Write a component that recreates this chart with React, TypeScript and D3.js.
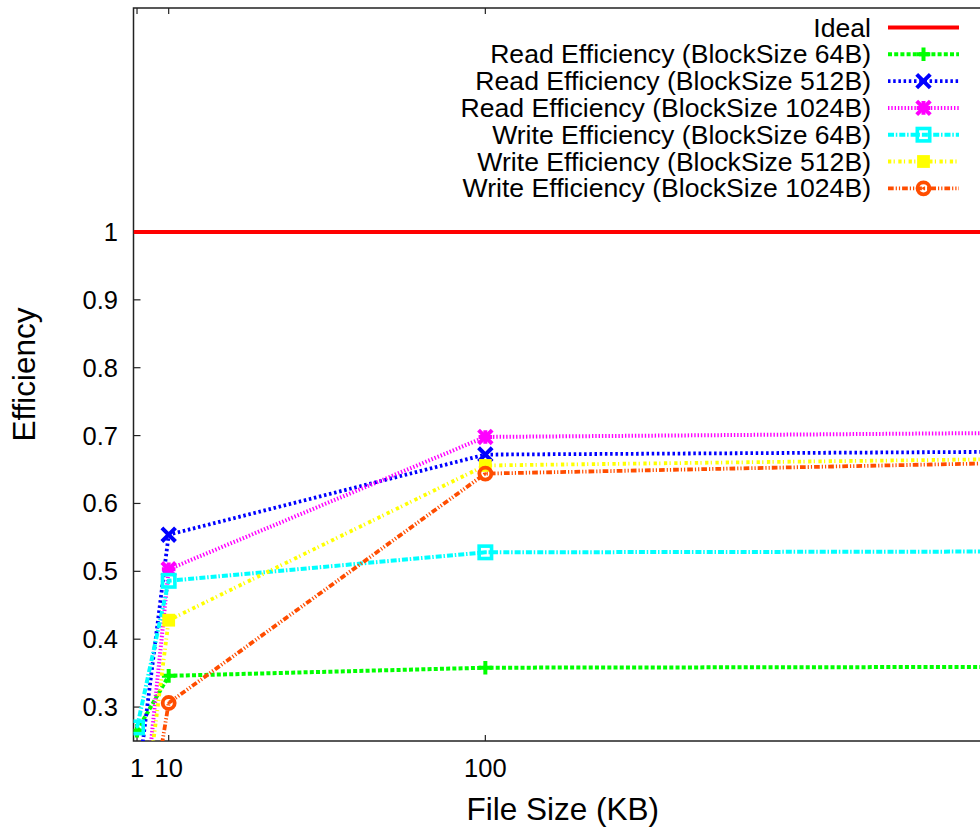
import React, { useRef, useEffect } from "react";
import * as d3 from "d3";

// File sizes in KB
const fileSizes = [1, 10, 100, 1000];

// Efficiency values per series
const idealValue = 1;
const readEff64 = [0.265, 0.346, 0.358, 0.365];
const readEff512 = [0.18, 0.554, 0.672, 0.697];
const readEff1024 = [0.045, 0.503, 0.698, 0.734];
const writeEff64 = [0.27, 0.486, 0.528, 0.535];
const writeEff512 = [0.06, 0.428, 0.656, 0.713];
const writeEff1024 = [0.02, 0.306, 0.644, 0.739];

const xTicks = [1, 10, 100];
const yTicks = [0.3, 0.4, 0.5, 0.6, 0.7, 0.8, 0.9, 1];

const seriesNames = [
  "Read Efficiency (BlockSize 64B)",
  "Read Efficiency (BlockSize 512B)",
  "Read Efficiency (BlockSize 1024B)",
  "Write Efficiency (BlockSize 64B)",
  "Write Efficiency (BlockSize 512B)",
  "Write Efficiency (BlockSize 1024B)",
];

const seriesValues = [readEff64, readEff512, readEff1024, writeEff64, writeEff512, writeEff1024];

const styles = [
  { color: "#00ff00", dash: "4,2.2", width: 4, marker: "plus" },
  { color: "#0000ff", dash: "2.5,2.7", width: 3.8, marker: "cross" },
  { color: "#ff00ff", dash: "1.4,1.9", width: 4, marker: "star" },
  { color: "#00ffff", dash: "6,1.8,1.5,2", width: 4, marker: "openSquare" },
  { color: "#ffff00", dash: "3.3,2.3,1.2,3.5", width: 3.8, marker: "filledSquare" },
  { color: "#ff4d00", dash: "5.7,2,1.2,2,1.2,2", width: 3.8, marker: "openCircle" },
];

const FONT = "'Liberation Sans', Arial, Helvetica, sans-serif";

function drawMarker(g, type, x, y, color) {
  const s = 6.8;
  if (type === "plus" || type === "star") {
    g.append("path")
      .attr("d", `M${x - s},${y}H${x + s}M${x},${y - s}V${y + s}`)
      .attr("stroke", color).attr("stroke-width", 4).attr("fill", "none");
  }
  if (type === "cross" || type === "star") {
    g.append("path")
      .attr("d", `M${x - s},${y - s}L${x + s},${y + s}M${x - s},${y + s}L${x + s},${y - s}`)
      .attr("stroke", color).attr("stroke-width", 4).attr("fill", "none");
  }
  if (type === "openSquare") {
    g.append("rect")
      .attr("x", x - 6.2).attr("y", y - 6.2).attr("width", 12.4).attr("height", 12.4)
      .attr("stroke", color).attr("stroke-width", 3.6).attr("fill", "none");
    g.append("rect").attr("x", x - 1).attr("y", y - 1).attr("width", 2).attr("height", 2).attr("fill", color);
  }
  if (type === "filledSquare") {
    g.append("rect")
      .attr("x", x - 6.4).attr("y", y - 6.4).attr("width", 12.8).attr("height", 12.8)
      .attr("fill", color);
  }
  if (type === "openCircle") {
    g.append("circle").attr("cx", x).attr("cy", y).attr("r", 6)
      .attr("stroke", color).attr("stroke-width", 3.8).attr("fill", "none");
    g.append("circle").attr("cx", x).attr("cy", y).attr("r", 1.4).attr("fill", color);
  }
}

const EfficiencyChart = () => {
  const svgRef = useRef(null);

  useEffect(() => {
    const svg = d3.select(svgRef.current);
    svg.selectAll("*").remove();

    const width = 980;
    const height = 829;
    const plot = { left: 133.5, right: 992, top: 8, bottom: 741 };

    const x = d3.scaleLinear().domain([0, 244]).range([plot.left, plot.right]);
    const y = d3.scaleLinear().domain([0.25, 1.33]).range([plot.bottom, plot.top]);

    svg.attr("width", width).attr("height", height);

    svg.append("defs").append("clipPath").attr("id", "plot-clip")
      .append("rect")
      .attr("x", plot.left).attr("y", plot.top)
      .attr("width", plot.right - plot.left).attr("height", plot.bottom - plot.top);

    // Border
    svg.append("rect")
      .attr("x", plot.left).attr("y", plot.top)
      .attr("width", plot.right - plot.left).attr("height", plot.bottom - plot.top)
      .attr("fill", "none").attr("stroke", "#222").attr("stroke-width", 1.5);

    // Ticks (inward, mirrored)
    const ticks = svg.append("g").attr("stroke", "#222").attr("stroke-width", 1.2);
    xTicks.forEach(t => {
      ticks.append("line").attr("x1", x(t)).attr("x2", x(t)).attr("y1", plot.bottom).attr("y2", plot.bottom - 6);
      ticks.append("line").attr("x1", x(t)).attr("x2", x(t)).attr("y1", plot.top).attr("y2", plot.top + 6);
    });
    yTicks.forEach(t => {
      ticks.append("line").attr("x1", plot.left).attr("x2", plot.left + 7).attr("y1", y(t)).attr("y2", y(t));
      ticks.append("line").attr("x1", plot.right).attr("x2", plot.right - 7).attr("y1", y(t)).attr("y2", y(t));
    });

    // Tick labels
    svg.append("g").selectAll("text").data(xTicks).enter().append("text")
      .attr("x", d => x(d)).attr("y", 777)
      .attr("text-anchor", "middle")
      .style("font-family", FONT).style("font-size", "25.5px")
      .text(d => d);

    svg.append("g").selectAll("text").data(yTicks).enter().append("text")
      .attr("x", 118).attr("y", d => y(d) + 9)
      .attr("text-anchor", "end")
      .style("font-family", FONT).style("font-size", "25.5px")
      .text(d => d3.format("~g")(d));

    // Axis titles
    svg.append("text")
      .attr("x", (plot.left + plot.right) / 2).attr("y", 820)
      .attr("text-anchor", "middle")
      .style("font-family", FONT).style("font-size", "31.5px")
      .text("File Size (KB)");

    svg.append("text")
      .attr("transform", `translate(35, ${(plot.top + plot.bottom) / 2}) rotate(-90)`)
      .attr("text-anchor", "middle")
      .style("font-family", FONT).style("font-size", "31.5px")
      .text("Efficiency");

    const chart = svg.append("g").attr("clip-path", "url(#plot-clip)");

    // Ideal line
    chart.append("line")
      .attr("x1", x(0)).attr("x2", x(d3.max(fileSizes)))
      .attr("y1", y(idealValue)).attr("y2", y(idealValue))
      .attr("stroke", "#ff0000").attr("stroke-width", 4);

    const line = d3.line().x(d => x(d[0])).y(d => y(d[1]));

    seriesValues.forEach((vals, i) => {
      const st = styles[i];
      const pts = fileSizes.map((f, j) => [f, vals[j]]);
      chart.append("path")
        .attr("d", line(pts))
        .attr("fill", "none")
        .attr("stroke", st.color)
        .attr("stroke-width", st.width)
        .attr("stroke-dasharray", st.dash);
      pts.forEach(p => drawMarker(chart, st.marker, x(p[0]), y(p[1]), st.color));
    });

    // Legend
    const legend = svg.append("g");
    const rowY = i => 27.5 + i * 26.8;
    const sampleX1 = 888, sampleX2 = 959, textX = 871;

    legend.append("text")
      .attr("x", textX).attr("y", rowY(0) + 9)
      .attr("text-anchor", "end")
      .style("font-family", FONT).style("font-size", "26.6px")
      .text("Ideal");
    legend.append("line")
      .attr("x1", sampleX1).attr("x2", sampleX2).attr("y1", rowY(0)).attr("y2", rowY(0))
      .attr("stroke", "#ff0000").attr("stroke-width", 4);

    seriesNames.forEach((name, i) => {
      const st = styles[i];
      const yy = rowY(i + 1);
      legend.append("text")
        .attr("x", textX).attr("y", yy + 9)
        .attr("text-anchor", "end")
        .style("font-family", FONT).style("font-size", "26.6px")
        .text(name);
      legend.append("line")
        .attr("x1", sampleX1).attr("x2", sampleX2).attr("y1", yy).attr("y2", yy)
        .attr("stroke", st.color).attr("stroke-width", st.width)
        .attr("stroke-dasharray", st.dash);
      drawMarker(legend, st.marker, (sampleX1 + sampleX2) / 2, yy, st.color);
    });
  }, []);

  return (
    <svg ref={svgRef} style={{ position: "absolute", left: 0, top: 0, background: "#fff" }}></svg>
  );
};

export default function App() {
  return <EfficiencyChart />;
}
